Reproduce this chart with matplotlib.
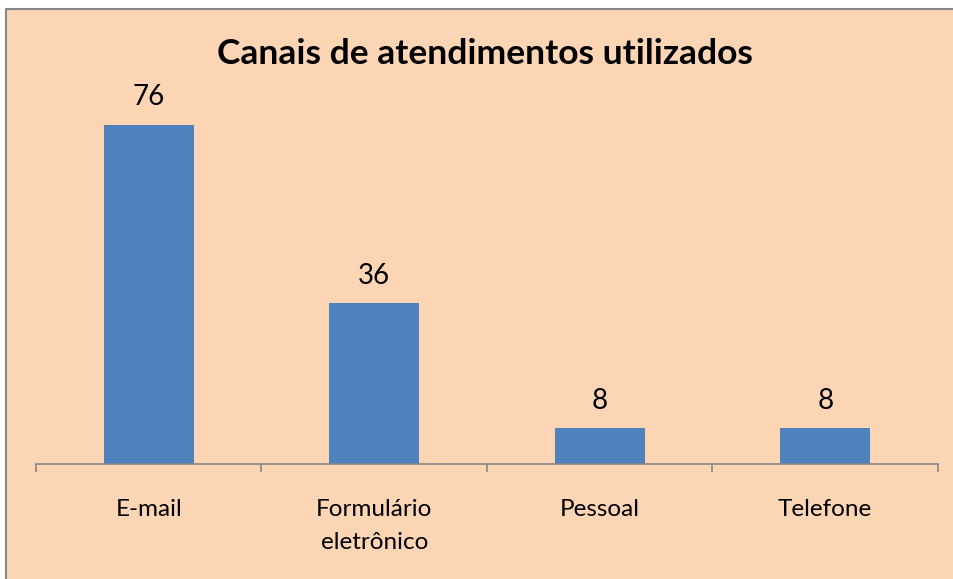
import matplotlib.pyplot as plt
from matplotlib.patches import Rectangle
from matplotlib.lines import Line2D

categorias = ["E-mail", "Formulário\neletrônico", "Pessoal", "Telefone"]
valores = [76, 36, 8, 8]
titulo = "Canais de atendimentos utilizados"

fundo = "#FCD5B5"
azul = "#4F81BD"
cinza = "#878787"

plt.rcParams['font.family'] = ['Lato', 'DejaVu Sans']

fig = plt.figure(figsize=(9.54, 5.79), dpi=100, facecolor="white")
# chart area: starts a bit inside the top-left corner, runs off the right and bottom
x0, y0 = 6/954, 1 - 9/579
fig.patches.append(Rectangle((x0, -0.05), 1.1, y0 + 0.05, transform=fig.transFigure,
                             facecolor=fundo, edgecolor="none", zorder=-2))
fig.lines.append(Line2D([x0, x0, 1.05], [-0.05, y0, y0], transform=fig.transFigure,
                        color=cinza, linewidth=1.5, zorder=-1))

ax = fig.add_axes([36/954, 115/579, 902/954, 357/579])
ax.set_facecolor("none")
ax.set_zorder(2)

x = list(range(len(valores)))
ax.bar(x, valores, width=0.4, color=azul, zorder=2)
for i, v in zip(x, valores):
    ax.annotate(str(v), (i, v), xytext=(0, 14), textcoords="offset points",
                ha="center", va="baseline", fontsize=20)

ax.set_xlim(-0.5, len(valores) - 0.5)
ax.set_ylim(0, 80)
ax.set_yticks([])
for s in ["top", "left", "right"]:
    ax.spines[s].set_visible(False)
ax.spines["bottom"].set_color(cinza)
ax.spines["bottom"].set_linewidth(1.2)

ax.set_xticks([i - 0.5 for i in range(len(valores) + 1)])
ax.set_xticklabels([])
ax.tick_params(axis="x", which="major", length=6, width=1.2, color=cinza)
ax.set_xticks(x, minor=True)
ax.set_xticklabels(categorias, minor=True, fontsize=17.5, linespacing=1.7)
ax.tick_params(axis="x", which="minor", length=0, pad=25)

fig.text(485/954, 1 - 54/579, titulo, ha="center", va="center",
         fontsize=25.5, fontweight="bold", zorder=3)

fig.savefig("out.png", dpi=100, facecolor=fig.get_facecolor())
